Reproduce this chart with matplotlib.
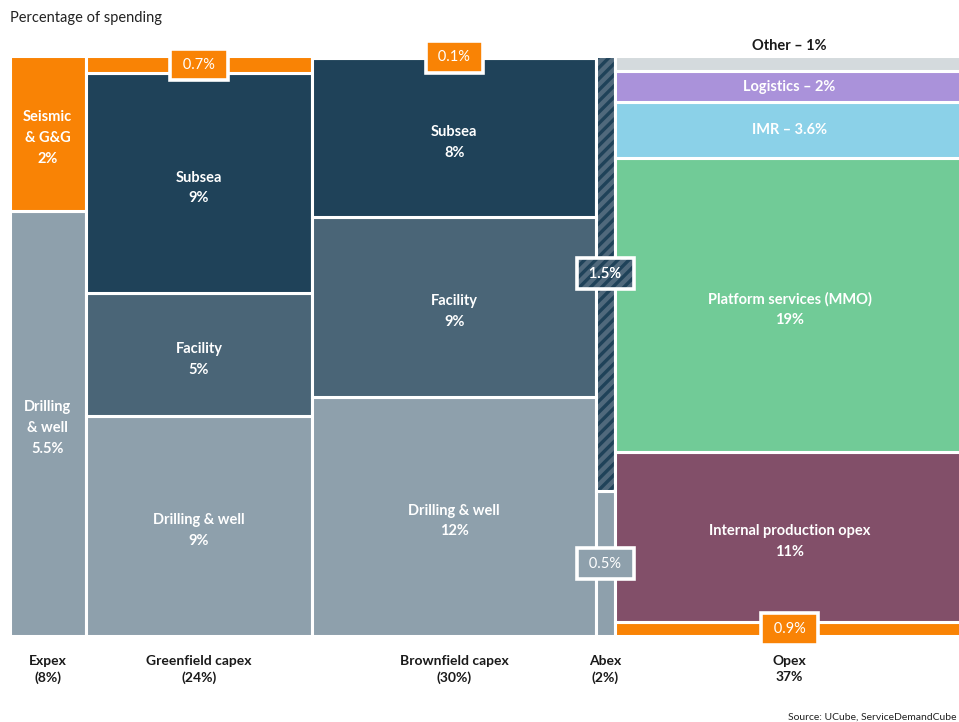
import matplotlib
matplotlib.use("Agg")
import matplotlib.pyplot as plt
import numpy as np

# column shares of total spending (%)
columns = ["Expex", "Greenfield capex", "Brownfield capex", "Abex", "Opex"]
column_share = [8, 24, 30, 2, 37]
column_labels = ["Expex\n(8%)", "Greenfield capex\n(24%)", "Brownfield capex\n(30%)", "Abex\n(2%)", "Opex\n37%"]

# segments per column, listed from bottom to top
expex_names = ["Drilling\n& well", "Seismic\n& G&G"]
expex_values = [5.5, 2]
greenfield_names = ["Drilling & well", "Facility", "Subsea", "Other"]
greenfield_values = [9, 5, 9, 0.7]
brownfield_names = ["Drilling & well", "Facility", "Subsea", "Other"]
brownfield_values = [12, 9, 8, 0.1]
abex_names = ["Removal", "Decommissioning"]
abex_values = [0.5, 1.5]
opex_names = ["Other opex", "Internal production opex", "Platform services (MMO)", "IMR", "Logistics", "Other"]
opex_values = [0.9, 11, 19, 3.6, 2, 1]

ORANGE = "#F98305"
NAVY = "#1F4259"
SLATE = "#4A6577"
GREY = "#8EA0AC"

segment_names = [expex_names, greenfield_names, brownfield_names, abex_names, opex_names]
segment_values = [expex_values, greenfield_values, brownfield_values, abex_values, opex_values]
segment_colors = [
    [GREY, ORANGE],
    [GREY, SLATE, NAVY, ORANGE],
    [GREY, SLATE, NAVY, ORANGE],
    [GREY, "hatch"],
    [ORANGE, "#824F69", "#71CB97", "#8BD1E8", "#AA92DA", "#D4DADD"],
]
# how each segment is labelled
segment_styles = [
    ["inside", "inside"],
    ["inside", "inside", "inside", "box"],
    ["inside", "inside", "inside", "box"],
    ["box", "box"],
    ["box", "inside", "inside", "inline", "inline", "above"],
]

plt.rcParams["font.family"] = ["Lato", "DejaVu Sans"]
plt.rcParams["hatch.linewidth"] = 2.4

W, H = 959, 722
fig = plt.figure(figsize=(W / 100, H / 100), dpi=100)
px_per_pct = 9.45
ax = fig.add_axes([10 / W, (H - 636) / H, 949 / W, 580 / H])
ax.set_xlim(0, 949 / px_per_pct)
ax.set_ylim(0, 100)
ax.axis("off")


def pct(v):
    return f"{v:g}%"


def box_label(x, y, text, fc, hatched=False):
    s = " " + text + " "
    kw = dict(ha="center", va="center", fontsize=10.5, color="white", zorder=5)
    style = "square,pad=0.6"
    if hatched:
        ax.text(x, y, s, bbox=dict(boxstyle=style, fc="#50697C", ec=NAVY,
                                   hatch="///", lw=0), **kw)
        ax.text(x, y, s, bbox=dict(boxstyle=style, fc="none", ec="white", lw=2.6), **kw)
    else:
        ax.text(x, y, s, bbox=dict(boxstyle=style, fc=fc, ec="white", lw=2.6), **kw)


left = 0.0
for ci, share in enumerate(column_share):
    vals = segment_values[ci]
    total = sum(vals)
    bottom = 0.0
    xc = left + share / 2
    for si, v in enumerate(vals):
        h = v / total * 100
        color = segment_colors[ci][si]
        if color == "hatch":
            ax.bar(left, h, share, bottom=bottom, align="edge", color="#50697C",
                   edgecolor=NAVY, hatch="///", linewidth=0)
            ax.bar(left, h, share, bottom=bottom, align="edge", fill=False,
                   edgecolor="white", linewidth=2.2)
        else:
            ax.bar(left, h, share, bottom=bottom, align="edge", color=color,
                   edgecolor="white", linewidth=2.2)

        yc = bottom + h / 2
        style = segment_styles[ci][si]
        name = segment_names[ci][si]
        if style == "inside":
            ax.text(xc, yc - 0.8, f"{name}\n{pct(v)}", ha="center", va="center", color="white",
                    fontsize=10.5, fontweight="bold", linespacing=1.6)
        elif style == "inline":
            ax.text(xc, yc, f"{name} \u2013 {pct(v)}", ha="center", va="center",
                    color="white", fontsize=10.5, fontweight="bold")
        elif style == "above":
            ax.text(xc, 101.8, f"{name} \u2013 {pct(v)}", ha="center", va="center",
                    color="#1a1a1a", fontsize=10.5, fontweight="bold")
        elif style == "box":
            box_label(xc, yc, pct(v), color, hatched=(color == "hatch"))
        bottom += h

    ax.text(xc, -0.032, column_labels[ci], transform=ax.get_xaxis_transform(),
            ha="center", va="top", fontsize=10, fontweight="bold", color="#1a1a1a",
            linespacing=1.45)
    left += share

fig.text(10 / W, 1 - 18 / H, "Percentage of spending", ha="left", va="center",
         fontsize=10.5, color="#222222")
fig.text(956 / W, 1 - 717 / H, "Source: UCube, ServiceDemandCube", ha="right", va="center",
         fontsize=7.5, color="#222222")

fig.savefig("out.png", dpi=100)
